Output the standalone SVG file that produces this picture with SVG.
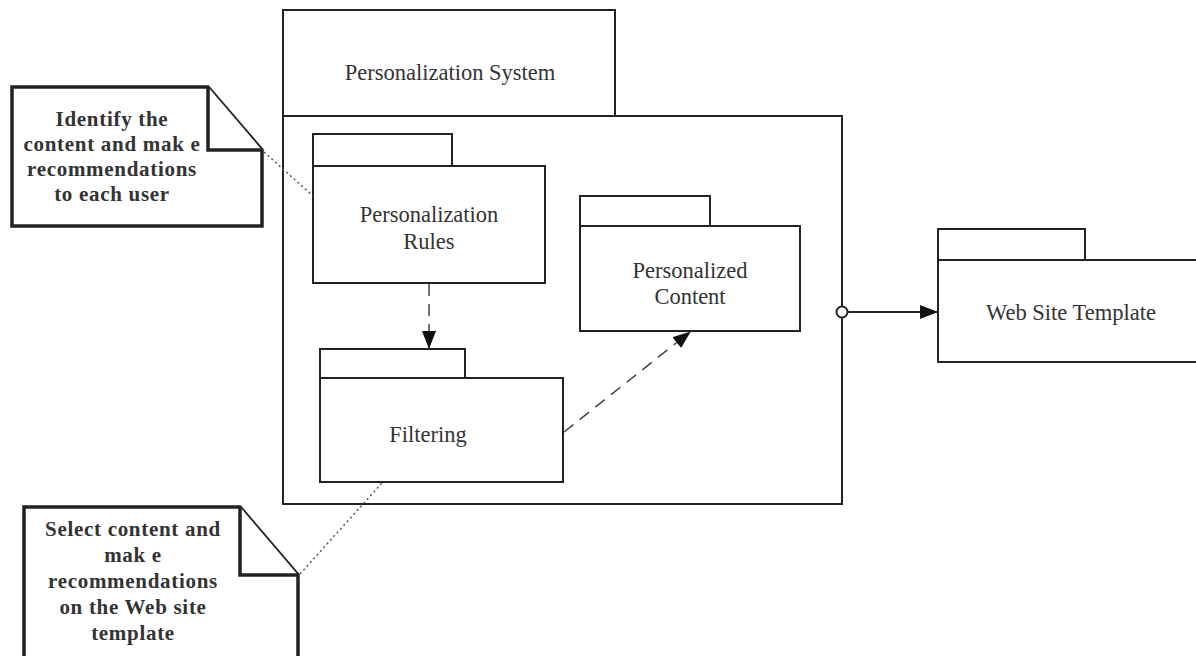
<svg xmlns="http://www.w3.org/2000/svg" width="1196" height="656" viewBox="0 0 1196 656">
  <style>
    .pkg { fill: #fff; stroke: #222; stroke-width: 2; }
    .note { fill: #fff; stroke: #222; stroke-width: 3.5; stroke-linejoin: miter; }
    .lbl { font-family: "Liberation Serif", "Times New Roman", serif; font-size: 22.5px; fill: #333; text-anchor: middle; }
    .ntxt { font-family: "Liberation Serif", "Times New Roman", serif; font-size: 21px; font-weight: bold; fill: #333; text-anchor: middle; letter-spacing: 0.7px; }
    .dep { fill: none; stroke: #444; stroke-width: 1.5; stroke-dasharray: 12 8; }
    .anchor { fill: none; stroke: #555; stroke-width: 1.5; stroke-dasharray: 2 3; }
    .solid { fill: none; stroke: #222; stroke-width: 2; }
  </style>
  <defs>
    <marker id="arrow" markerWidth="18" markerHeight="14" refX="17" refY="7" orient="auto" markerUnits="userSpaceOnUse">
      <path d="M0,0 L18,7 L0,14 Z" fill="#111"/>
    </marker>
  </defs>
  <rect width="1196" height="656" fill="#fff"/>

  <!-- outer package -->
  <g id="personalization-system">
    <rect class="pkg" x="283" y="10" width="332" height="106"/>
    <rect class="pkg" x="283" y="116" width="559" height="388"/>
    <text class="lbl" x="450" y="80">Personalization System</text>
  </g>

  <g id="personalization-rules">
    <rect class="pkg" x="313" y="134" width="139" height="32"/>
    <rect class="pkg" x="313" y="166" width="232" height="117"/>
    <text class="lbl" x="429" y="222">Personalization</text>
    <text class="lbl" x="429" y="249">Rules</text>
  </g>

  <g id="filtering">
    <rect class="pkg" x="320" y="349" width="145" height="29"/>
    <rect class="pkg" x="320" y="378" width="243" height="104"/>
    <text class="lbl" x="428" y="442">Filtering</text>
  </g>

  <g id="personalized-content">
    <rect class="pkg" x="580" y="196" width="130" height="30"/>
    <rect class="pkg" x="580" y="226" width="220" height="105"/>
    <text class="lbl" x="690" y="278">Personalized</text>
    <text class="lbl" x="690" y="304">Content</text>
  </g>

  <g id="web-site-template">
    <rect class="pkg" x="938" y="229" width="147" height="31"/>
    <rect class="pkg" x="938" y="260" width="270" height="102"/>
    <text class="lbl" x="1071" y="320">Web Site Template</text>
  </g>

  <g id="note-identify">
    <path class="note" d="M12,87 H208 L262,150 V226 H12 Z"/>
    <path class="note" d="M208,87 V150 H262"/>
    <text class="ntxt" x="112" y="126">Identify the</text>
    <text class="ntxt" x="112" y="151">content and mak e</text>
    <text class="ntxt" x="112" y="176">recommendations</text>
    <text class="ntxt" x="112" y="201">to each user</text>
  </g>

  <g id="note-select">
    <path class="note" d="M24,507 H240 L298,575 V660 H24 Z"/>
    <path class="note" d="M240,507 V575 H298"/>
    <text class="ntxt" x="133" y="536">Select content and</text>
    <text class="ntxt" x="133" y="562">mak e</text>
    <text class="ntxt" x="133" y="588">recommendations</text>
    <text class="ntxt" x="133" y="614">on the Web site</text>
    <text class="ntxt" x="133" y="640">template</text>
  </g>

  <!-- connectors -->
  <g id="connectors">
    <line class="dep" x1="429" y1="284" x2="429" y2="348" marker-end="url(#arrow)"/>
    <line class="dep" x1="564" y1="432" x2="690" y2="332" marker-end="url(#arrow)"/>
    <line class="anchor" x1="264" y1="152" x2="313" y2="196"/>
    <line class="anchor" x1="300" y1="574" x2="382" y2="483"/>
    <circle cx="842" cy="312" r="5.5" fill="#fff" stroke="#222" stroke-width="2"/>
    <line class="solid" x1="848" y1="312" x2="937" y2="312" marker-end="url(#arrow)"/>
  </g>
</svg>
